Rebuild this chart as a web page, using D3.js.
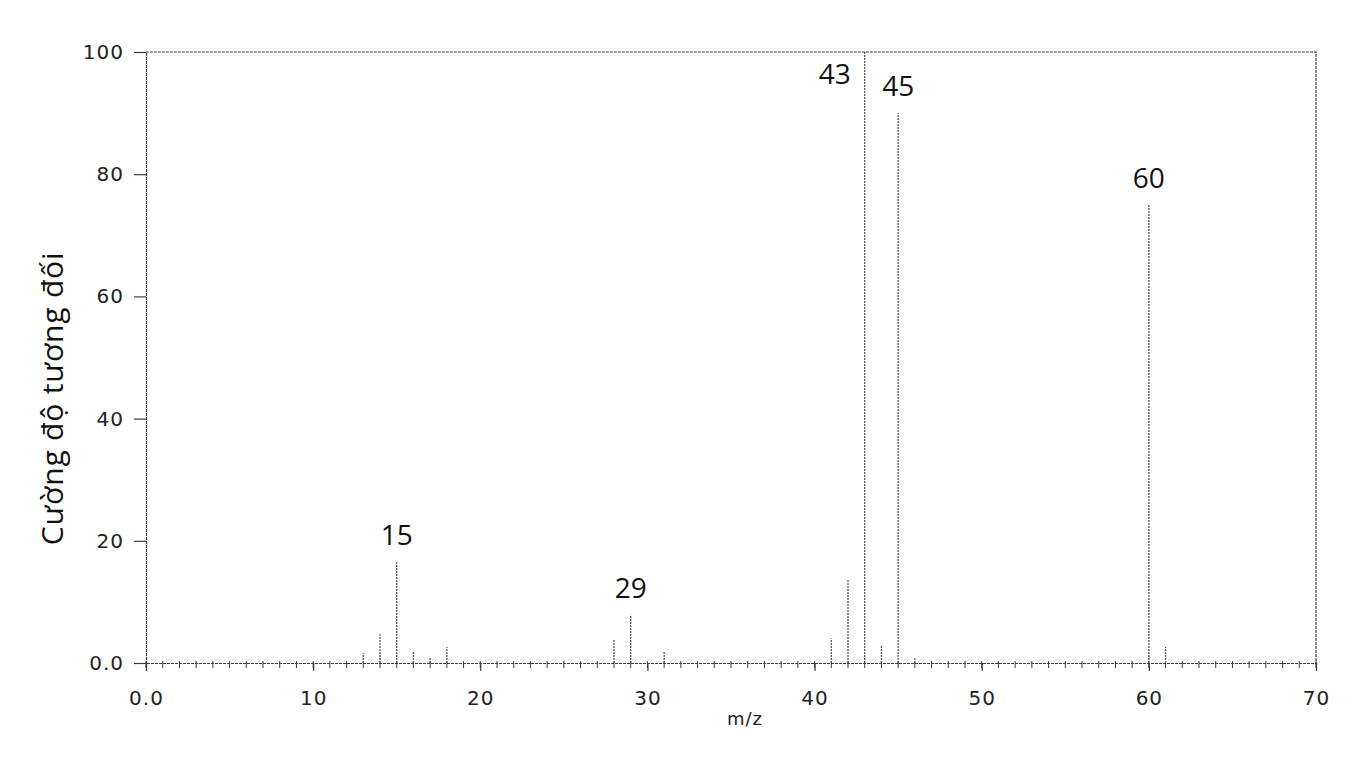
<!DOCTYPE html>
<html>
<head>
<meta charset="utf-8">
<script src="https://cdn.jsdelivr.net/npm/d3@7"></script>
<style>
  body { margin: 0; background: #fff; }
  .tick text { font-family: "DejaVu Sans", sans-serif; }
</style>
</head>
<body>
<svg width="1372" height="773"></svg>
<script>
// mass spectrum, relative intensity vs m/z
var mz        = [13, 14, 15, 16, 17, 18, 28, 29, 31, 41, 42, 43, 44, 45, 46, 60, 61];
var intensity = [1.6, 4.7, 16.5, 2, 1, 2.6, 3.8, 7.9, 1.8, 4, 13.6, 100, 3, 90, 1, 75, 2.6];
var labelled  = [15, 29, 43, 45, 60];
var xTicks = [0, 10, 20, 30, 40, 50, 60, 70];
var yTicks = [0, 20, 40, 60, 80, 100];

var svg = d3.select("svg"),
    margin = {top: 52, right: 56, bottom: 110, left: 146},
    width = +svg.attr("width") - margin.left - margin.right,
    height = +svg.attr("height") - margin.top - margin.bottom;

var x = d3.scaleLinear().domain([0, 70]).range([0, width]);
var y = d3.scaleLinear().domain([0, 100]).range([height, 0]);

var g = svg.append("g").attr("transform", "translate(" + margin.left + "," + margin.top + ")");

var ink = "#3a3a3a";

// frame (top and right)
g.append("path")
    .attr("d", "M0,0H" + width + "V" + height)
    .attr("fill", "none")
    .attr("stroke", ink)
    .attr("stroke-width", 1.2)
    .attr("stroke-dasharray", "3,1");

// minor x ticks every 1
g.append("g")
    .attr("transform", "translate(0," + height + ")")
    .selectAll("line")
    .data(d3.range(0, 71, 1))
    .enter().append("line")
    .attr("x1", function(d) { return x(d); })
    .attr("x2", function(d) { return x(d); })
    .attr("y1", -2)
    .attr("y2", 5)
    .attr("stroke", ink);

var fmt = function(d) { return d == 0 ? "0.0" : d; };

var xAxis = g.append("g")
    .attr("transform", "translate(0," + height + ")")
    .call(d3.axisBottom(x).tickValues(xTicks).tickSize(8).tickPadding(20).tickFormat(fmt));

var yAxis = g.append("g")
    .call(d3.axisLeft(y).tickValues(yTicks).tickSize(12).tickPadding(10).tickFormat(fmt));

[xAxis, yAxis].forEach(function(a) {
  a.select(".domain").attr("stroke", ink).attr("stroke-width", 1.2).attr("stroke-dasharray", "3,1");
  a.selectAll(".tick line").attr("stroke", ink).attr("stroke-width", 1.2);
  a.selectAll(".tick text")
    .attr("font-size", 20)
    .attr("letter-spacing", 1)
    .attr("fill", "#222");
});

// peaks
g.append("g")
    .selectAll("line")
    .data(mz)
    .enter().append("line")
    .attr("x1", function(d) { return x(d); })
    .attr("x2", function(d) { return x(d); })
    .attr("y1", y(0))
    .attr("y2", function(d, i) { return y(intensity[i]); })
    .attr("stroke", "#555")
    .attr("stroke-width", 1.3)
    .attr("stroke-dasharray", "2,1");

// peak labels
g.append("g")
    .selectAll("text")
    .data(labelled)
    .enter().append("text")
    .attr("font-family", "Open Sans, sans-serif")
    .attr("font-size", 28)
    .attr("fill", "#111")
    .attr("text-anchor", function(d) { return intensity[mz.indexOf(d)] >= 100 ? "end" : "middle"; })
    .attr("x", function(d) { return intensity[mz.indexOf(d)] >= 100 ? x(d) - 14 : x(d); })
    .attr("y", function(d) {
      var v = intensity[mz.indexOf(d)];
      return v >= 100 ? y(v) + 32 : y(v) - 17;
    })
    .text(function(d) { return d; });

// axis titles
svg.append("text")
    .attr("transform", "translate(63," + (margin.top + height / 2 + 41) + ") rotate(-90)")
    .attr("text-anchor", "middle")
    .attr("font-family", "Open Sans, sans-serif")
    .attr("font-size", 30)
    .attr("letter-spacing", 0.8)
    .attr("fill", "#111")
    .text("Cường độ tương đối");

svg.append("text")
    .attr("x", 745)
    .attr("y", 725)
    .attr("text-anchor", "middle")
    .attr("font-family", "DejaVu Sans, sans-serif")
    .attr("font-size", 18)
    .attr("letter-spacing", 1)
    .attr("fill", "#222")
    .text("m/z");
</script>
</body>
</html>
